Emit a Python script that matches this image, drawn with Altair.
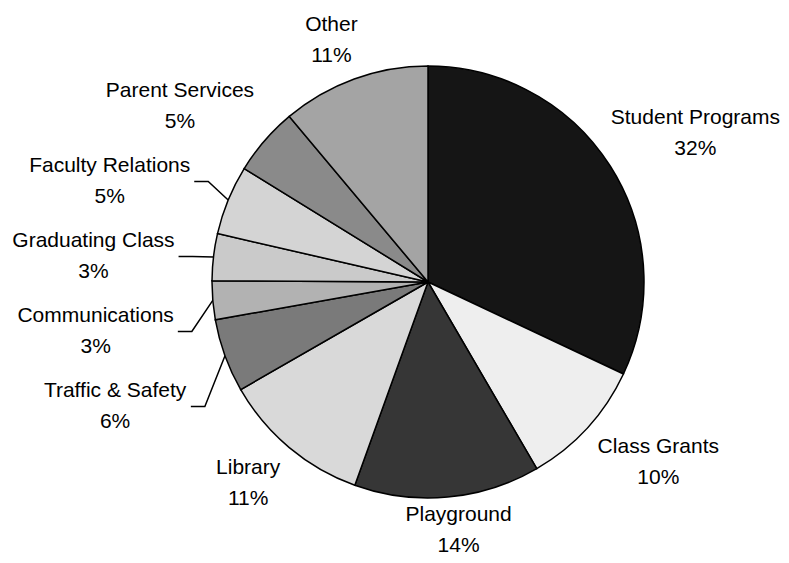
import math
import altair as alt
import pandas as pd

# ---- data ----
categories = ["Student Programs", "Class Grants", "Playground", "Library",
              "Traffic & Safety", "Communications", "Graduating Class",
              "Faculty Relations", "Parent Services", "Other"]
shares = [32.0, 9.6, 13.9, 11.2, 5.5, 2.9, 3.5, 5.2, 5.1, 11.1]
pct_labels = ["32%", "10%", "14%", "11%", "6%", "3%", "3%", "5%", "5%", "11%"]

# ---- style ----
fills = ["#151515", "#eeeeee", "#363636", "#d9d9d9", "#7a7a7a",
         "#b2b2b2", "#cacaca", "#d4d4d4", "#8a8a8a", "#a4a4a4"]
R = 216          # pie radius (px)
GAP = 14         # gap between pie edge and label box
FONT_SIZE = 21
LINE_H = 31
HALF_H = 25      # half height of a two-line label block
STACK = 75       # min vertical spacing of stacked labels
LEADER = 25      # horizontal room for a leader line
PAD_L, PAD_T = 67, 1
W, H = 706, 546
FONT = "Liberation Sans"

# Arial / Liberation Sans advance widths (1/1000 em) for text measuring
_AW = {" ": 278, "&": 667, "%": 889, "S": 667, "P": 667, "C": 722, "L": 556,
       "T": 611, "G": 778, "F": 611, "R": 722, "O": 778, "a": 556, "b": 556,
       "c": 500, "d": 556, "e": 556, "f": 278, "g": 556, "h": 556, "i": 222,
       "l": 222, "m": 833, "n": 556, "o": 556, "r": 333, "s": 500, "t": 278,
       "u": 556, "v": 500, "y": 500}


def text_w(t):
    return sum(_AW.get(ch, 556) for ch in t) * FONT_SIZE / 1000.0


def clamp(v, lo=-1.0, hi=1.0):
    return max(lo, min(hi, v))


# ---- label layout derived from the shares (Excel-like "best fit") ----
cx, cy = W / 2, H / 2
total = sum(shares)
cum = 0.0
labels = []
for cat, val, pct in zip(categories, shares, pct_labels):
    mid = (cum + val / 2) / total
    cum += val
    a = mid * 2 * math.pi
    s, c = math.sin(a), math.cos(a)
    ax, ay = cx + (R + GAP) * s, cy - (R + GAP) * c
    hw = max(text_w(cat), text_w(pct)) / 2
    labels.append(dict(category=cat, pct=pct, s=s, c=c, ax=ax, ay=ay, hw=hw,
                       lx=ax + hw * clamp(2 * s), ly=ay - HALF_H * clamp(2 * c),
                       lead=False))

left = sorted([d for d in labels if d["s"] < 0], key=lambda d: d["ly"])
prev = None
for d in left:
    if prev is not None:
        overlap_x = (d["lx"] - d["hw"] < prev["lx"] + prev["hw"]) and (d["lx"] + d["hw"] > prev["lx"] - prev["hw"])
        if overlap_x and d["ly"] < prev["ly"] + STACK:
            d["ly"] = prev["ly"] + STACK
            d["lead"] = True
            d["lx"] = d["ax"] - LEADER - d["hw"]
    prev = d

# keep every label inside the drawing surface
for d in labels:
    d["lx"] = clamp(d["lx"], -PAD_L + d["hw"] + 1, W - d["hw"] - 1)
    d["ly"] = clamp(d["ly"], -PAD_T + HALF_H, H - LINE_H / 2 - 9)

lab_df = pd.DataFrame({
    "category": [d["category"] for d in labels],
    "txt": [d["category"] + "\n" + d["pct"] for d in labels],
    "lx": [d["lx"] for d in labels],
    "ly": [d["ly"] for d in labels],
})

lead_rows = []
for d in labels:
    if d["lead"]:
        right = d["lx"] + d["hw"]
        pts = [(right + 4, d["ly"]), (right + 18, d["ly"]),
               (cx + R * d["s"], cy - R * d["c"])]
        for k, (px, py) in enumerate(pts):
            lead_rows.append({"category": d["category"], "seq": k, "px": px, "py": py})
lead_df = pd.DataFrame(lead_rows)

# ---- pie ----
pie_df = pd.DataFrame({
    "category": categories,
    "share": shares,
    "order": list(range(len(categories))),
})
theta_scale = alt.Scale(domain=[0, total], range=[0, 2 * math.pi])

arcs = alt.Chart(pie_df).transform_window(
    end="sum(share)", sort=[alt.SortField("order")], frame=[None, 0]
).transform_calculate(
    start="datum.end - datum.share",
).mark_arc(outerRadius=R, stroke="black", strokeWidth=1.5).encode(
    theta=alt.Theta("start:Q", scale=theta_scale),
    theta2="end:Q",
    color=alt.Color("category:N", scale=alt.Scale(domain=categories, range=fills), legend=None),
)

text = alt.Chart(lab_df).mark_text(
    font=FONT, fontSize=FONT_SIZE, lineBreak="\n", lineHeight=LINE_H, dy=-LINE_H / 2,
    align="center", baseline="middle", color="black",
).encode(
    x=alt.X("lx:Q", scale=None, axis=None),
    y=alt.Y("ly:Q", scale=None, axis=None),
    text="txt:N",
)

leaders = alt.Chart(lead_df).mark_line(color="black", strokeWidth=1.5).encode(
    x=alt.X("px:Q", scale=None, axis=None),
    y=alt.Y("py:Q", scale=None, axis=None),
    detail="category:N",
    order="seq:Q",
)

chart = alt.layer(arcs, leaders, text).properties(
    width=W, height=H,
    background="white",
    autosize=alt.AutoSizeParams(type="none"),
    padding={"left": PAD_L, "top": PAD_T, "right": 0, "bottom": 0},
).configure_view(strokeWidth=0, stroke=None).configure_axis(grid=False, domain=False)

chart.save("out.html", embed_options={"renderer": "svg", "actions": False})
